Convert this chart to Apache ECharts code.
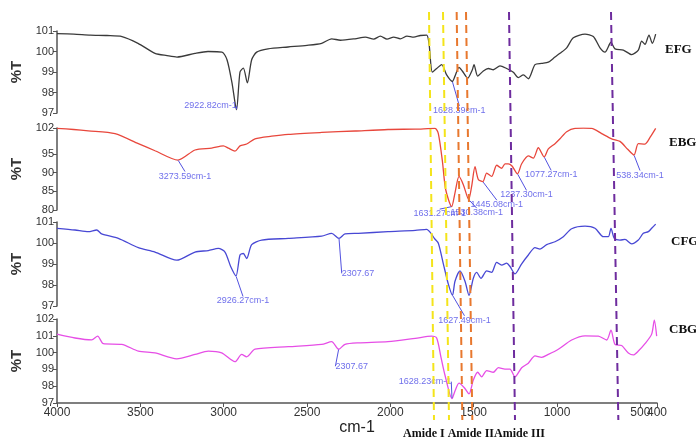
<!DOCTYPE html>
<html><head><meta charset="utf-8">
<script src="https://cdn.jsdelivr.net/npm/echarts@6/dist/echarts.min.js"></script>
<style>html,body{margin:0;padding:0;background:#fff}#c{width:696px;height:441px}</style>
</head><body><div id="c"></div>
<script>
// ---------- DATA ----------
const xTicks = [4000, 3500, 3000, 2500, 2000, 1500, 1000, 500, 400];
const efgTicks = [97, 98, 99, 100, 101];
const ebgTicks = [80, 85, 90, 95, 102];
const cfgTicks = [97, 98, 99, 100, 101];
const cbgTicks = [97, 98, 99, 100, 101, 102];
const sampleNames = ['EFG', 'EBG', 'CFG', 'CBG'];

const efgData = [[4000,100.87],[3900,100.85],[3800,100.8],[3700,100.78],[3610,100.73],[3514,100.4],[3412,99.91],[3340,99.8],[3280,99.73],[3172,99.91],[3094,100.0],[3010,99.97],[2980,99.6],[2950,98.47],[2923,97.16],[2902,99.0],[2882,99.19],[2858,98.47],[2832,99.6],[2802,99.97],[2734,100.13],[2614,100.22],[2500,100.3],[2412,100.4],[2352,100.62],[2300,100.55],[2212,100.62],[2150,100.7],[2100,100.6],[2060,100.75],[2020,100.6],[1980,100.7],[1940,100.62],[1900,100.75],[1860,100.7],[1820,100.78],[1782,100.8],[1768,100.4],[1748,98.99],[1722,99.17],[1692,99.36],[1662,98.86],[1628,98.54],[1612,98.8],[1588,99.23],[1568,99.05],[1536,98.7],[1508,99.11],[1498,99.36],[1476,98.8],[1442,99.05],[1412,99.17],[1382,99.11],[1342,99.3],[1302,99.17],[1262,98.99],[1232,98.73],[1202,98.86],[1172,98.67],[1132,99.36],[1092,99.42],[1052,99.48],[1012,99.73],[982,99.91],[942,100.18],[902,100.67],[832,100.85],[782,100.73],[742,100.18],[712,99.97],[676,100.45],[652,100.13],[602,100.07],[552,99.85],[512,100.07],[492,100.51],[472,100.35],[448,100.8],[428,100.4],[408,100.85]];

const ebgData = [[4000,101.9],[3900,101.6],[3812,101.25],[3652,100.5],[3512,97.8],[3412,95.9],[3274,93.4],[3172,96.1],[3072,96.6],[3002,97.2],[2972,96.6],[2932,95.8],[2902,97.2],[2862,97.7],[2812,99.1],[2712,99.8],[2612,100.3],[2412,100.8],[2212,101.2],[2014,101.6],[1850,101.7],[1732,101.9],[1712,100.5],[1688,93.25],[1668,85.5],[1632,80.9],[1612,84.6],[1588,89.0],[1562,86.8],[1530,82.8],[1512,86.4],[1492,91.6],[1472,88.2],[1445,87.6],[1422,89.9],[1392,89.0],[1362,92.0],[1332,91.2],[1312,92.4],[1292,92.4],[1270,91.8],[1237,89.7],[1212,92.4],[1172,94.5],[1142,93.9],[1112,96.7],[1077,94.25],[1052,96.4],[1012,97.8],[982,99.1],[942,101.0],[892,101.9],[842,101.95],[792,101.9],[732,100.5],[672,99.1],[622,98.4],[576,96.3],[538,94.75],[512,97.8],[472,97.7],[440,99.6],[408,101.9]];

const cfgData = [[4000,100.7],[3892,100.62],[3812,100.54],[3762,100.62],[3732,100.43],[3632,100.22],[3512,99.78],[3412,99.57],[3282,99.18],[3172,99.57],[3092,99.64],[3032,99.74],[2992,99.57],[2958,98.88],[2926,98.43],[2902,99.43],[2882,99.5],[2862,99.26],[2832,99.92],[2772,100.14],[2612,100.22],[2412,100.33],[2352,100.46],[2308,100.22],[2272,100.43],[2192,100.46],[2014,100.54],[1850,100.6],[1782,100.65],[1756,100.46],[1736,100.22],[1712,99.99],[1682,99.01],[1652,98.04],[1627,97.51],[1612,98.18],[1582,98.67],[1552,98.18],[1528,97.51],[1502,98.32],[1482,98.6],[1456,98.32],[1422,98.67],[1392,98.6],[1362,99.08],[1332,98.95],[1302,99.04],[1282,98.88],[1252,98.53],[1212,99.01],[1172,99.43],[1132,99.78],[1102,99.71],[1062,99.92],[1012,100.06],[962,100.3],[912,100.68],[832,100.8],[772,100.7],[722,100.3],[692,100.3],[676,100.7],[656,100.22],[622,100.14],[592,100.17],[552,99.96],[512,100.14],[482,100.46],[452,100.54],[432,100.7],[408,100.9]];

const cbgData = [[4000,101.1],[3892,100.87],[3792,100.76],[3756,100.98],[3722,100.53],[3612,100.49],[3512,100.09],[3412,99.98],[3282,99.63],[3172,99.89],[3092,100.09],[3012,99.98],[2932,99.46],[2892,99.89],[2862,99.75],[2812,100.2],[2612,100.35],[2412,100.49],[2352,100.65],[2310,100.2],[2272,100.49],[2192,100.58],[2014,100.65],[1850,100.85],[1752,100.98],[1722,100.87],[1696,99.72],[1672,98.65],[1630,97.26],[1612,97.72],[1588,98.18],[1556,97.91],[1528,97.54],[1502,98.37],[1476,98.83],[1452,98.56],[1422,98.93],[1382,98.83],[1352,99.1],[1312,99.02],[1282,99.02],[1252,98.56],[1212,99.1],[1172,99.37],[1132,99.8],[1092,99.72],[1052,99.89],[992,100.2],[912,100.75],[832,101.0],[752,100.98],[702,100.75],[676,101.34],[652,100.49],[612,100.42],[572,99.98],[542,99.86],[512,100.09],[472,100.53],[432,101.1],[416,101.93],[402,100.98]];

// peak annotations: [wavenumber in data, label text]
const efgPeaks = [[2923,'2922.82cm-1'],[1628,'1628.39cm-1']];
const ebgPeaks = [[3274,'3273.59cm-1'],[1632,'1631.27cm-1'],[1530,'1530.38cm-1'],[1445,'1445.08cm-1'],[1237,'1237.30cm-1'],[1077,'1077.27cm-1'],[538,'538.34cm-1']];
const cfgPeaks = [[2926,'2926.27cm-1'],[2308,'2307.67'],[1627,'1627.49cm-1']];
const cbgPeaks = [[2310,'2307.67'],[1630,'1628.23cm-1']];

// dashed reference lines: wavenumber at top and at bottom (lines lean slightly)
const refTop = [1768, 1684, 1602, 1546, 1288, 676];
const refBottom = [1738, 1648, 1568, 1508, 1252, 632];
const refKinds = ['amideI','amideI','amideII','amideII','amideIII','amideIII'];
const bottomNote = 'Amide I Amide IIAmide III';

// ---------- LAYOUT / STYLE ----------
const panels = [{top:31,height:82},{top:128,height:82},{top:222,height:84},{top:319,height:84}];
const lineColors = ['#3a3a3a','#e8473c','#4848d4','#e64ee6'];
const refColors = {amideI:'#f4e41a', amideII:'#e8782e', amideIII:'#6e2c9e'};
const peakOffsets = [
  [[-26,-4],[7,29]],
  [[7,16],[-12,7],[8,13],[14,23],[9,21],[7,18],[6,20]],
  [[7,25],[19,35],[12,25]],
  [[13,17],[-27,-17]]
];
const namePos = [[665,43],[669,136],[671,235],[669,323]];
const allData = [efgData, ebgData, cfgData, cbgData];
const allTicks = [efgTicks, ebgTicks, cfgTicks, cbgTicks];
const allPeaks = [efgPeaks, ebgPeaks, cfgPeaks, cbgPeaks];
const SANS = '"Liberation Sans", Arial, sans-serif';
const NARROW = '"Liberation Sans Narrow", "Liberation Sans", sans-serif';

function lookup(data, wn) {
  let best = data[0];
  data.forEach(d => { if (Math.abs(d[0]-wn) < Math.abs(best[0]-wn)) best = d; });
  return best[1];
}

const xMin = Math.min(...xTicks), xMax = Math.max(...xTicks);
const mainXLabels = xTicks.filter(v => v !== xMin);
const endXLabels = [xMin];

const grid = panels.map(p => ({left:57, right:39, top:p.top, height:p.height}));
const xAxis = panels.map((p,i) => {
  const last = i === panels.length - 1;
  return {
    type:'value', gridIndex:i, min:xMin, max:xMax, inverse:true, show:last,
    axisLine:{show:true, lineStyle:{color:'#555', width:1.5}},
    axisTick:{show:true, customValues:xTicks, length:4, lineStyle:{color:'#555'}},
    axisLabel:{customValues:mainXLabels, fontSize:12, color:'#333', margin:4, fontFamily:SANS,
      formatter: v => String(v), hideOverlap:false},
    splitLine:{show:false},
    name: last ? 'cm-1' : '', nameLocation:'middle', nameGap:17,
    nameTextStyle:{fontSize:16, color:'#222', fontFamily:SANS}
  };
});
// companion axis on the bottom panel carrying only the end label (so it is not hidden by overlap)
xAxis.push({
  type:'value', gridIndex:panels.length-1, min:xMin, max:xMax, inverse:true, position:'bottom',
  axisLine:{show:false}, axisTick:{show:false}, splitLine:{show:false},
  axisLabel:{customValues:endXLabels, fontSize:12, color:'#333', margin:4, fontFamily:SANS,
    formatter: v => String(v)}
});
const yAxis = panels.map((p,i) => {
  const t = allTicks[i];
  return {
    type:'value', gridIndex:i, min:t[0], max:t[t.length-1],
    axisLine:{show:true, lineStyle:{color:'#555', width:1.5}},
    axisTick:{show:true, customValues:t, length:4, lineStyle:{color:'#555'}},
    axisLabel:{customValues:t, fontSize:11, color:'#333', margin:3, fontFamily:SANS,
      formatter: v => String(v), hideOverlap:false, showMinLabel:true, showMaxLabel:true},
    splitLine:{show:false},
    name:'%T', nameLocation:'middle', nameRotate:90, nameGap:30,
    nameTextStyle:{fontSize:15, fontWeight:'bold', color:'#333', fontFamily:SANS}
  };
});
const series = [];
allData.forEach((d,i) => {
  series.push({type:'line', xAxisIndex:i, yAxisIndex:i, data:d, showSymbol:false, smooth:0.25,
    lineStyle:{color:lineColors[i], width:1.3}, z:2, silent:true});
});
allPeaks.forEach((pk,i) => {
  series.push({type:'scatter', xAxisIndex:i, yAxisIndex:i, symbolSize:1, itemStyle:{color:'rgba(0,0,0,0)'},
    data: pk.map(p => ({value:[p[0], lookup(allData[i], p[0])], name:p[1]})),
    label:{show:true, position:'inside', formatter:'{b}', color:'#4a4ae6', fontSize:9, fontFamily:NARROW},
    labelLine:{show:true, lineStyle:{color:'#5252e0', width:1}},
    labelLayout: function(params){ const o = peakOffsets[i][params.dataIndex]; return {dx:o[0], dy:o[1]}; },
    z:5, silent:true});
});

const chart = echarts.init(document.getElementById('c'), null, {renderer:'canvas'});
chart.setOption({animation:false, backgroundColor:'#fff', grid, xAxis, yAxis, series});

const yTop = panels[0].top - 19;
const last = panels[panels.length-1];
const yBot = last.top + last.height + 17;
const graphic = [];
refTop.forEach((wn,k) => {
  const x1 = chart.convertToPixel({xAxisIndex:3}, wn);
  const x2 = chart.convertToPixel({xAxisIndex:3}, refBottom[k]);
  graphic.push({type:'line', id:'ref'+k, z:50, silent:true,
    shape:{x1:x1, y1:yTop, x2:x2, y2:yBot},
    style:{stroke:refColors[refKinds[k]], lineWidth:2, lineDash:[8,5]}});
});
sampleNames.forEach((n,i) => {
  graphic.push({type:'text', id:'nm'+i, left:namePos[i][0], top:namePos[i][1], z:60,
    style:{text:n, font:'bold 13px "Liberation Serif", "Times New Roman", serif', fill:'#111'}});
});
graphic.push({type:'text', id:'note', left:403, top:428, z:60,
  style:{text:bottomNote, font:'bold 12px "Liberation Serif", "Times New Roman", serif', fill:'#111'}});
chart.setOption({graphic});
</script></body></html>
